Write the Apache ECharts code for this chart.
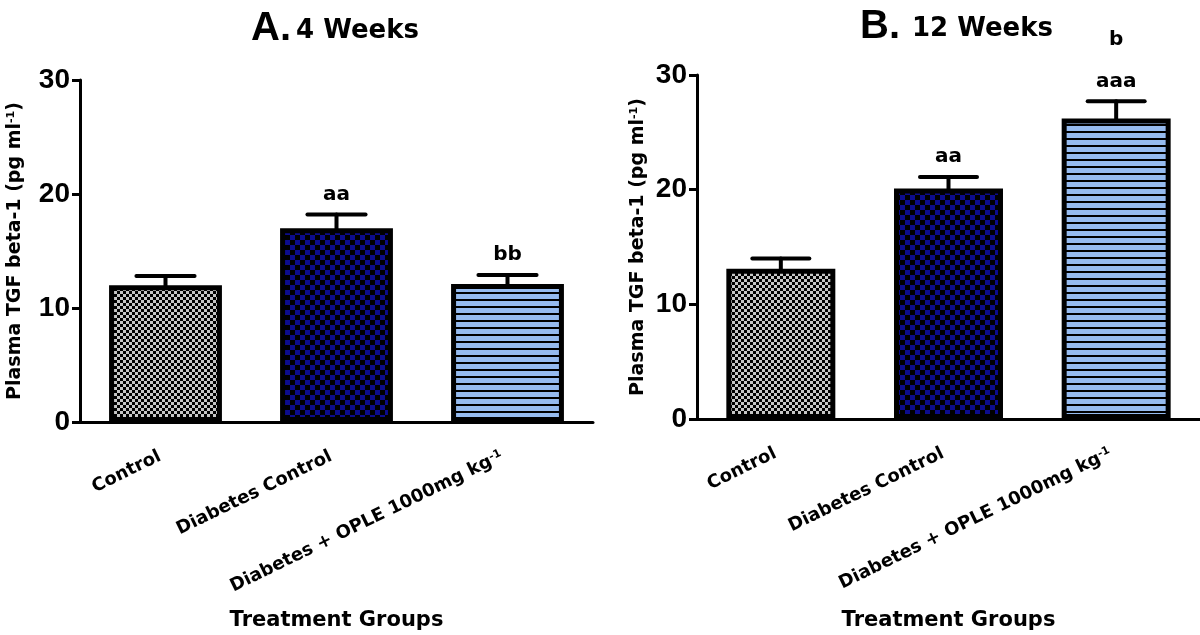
<!DOCTYPE html>
<html>
<head>
<meta charset="utf-8">
<script src="https://cdn.jsdelivr.net/npm/echarts@6/dist/echarts.min.js"></script>
<style>
html, body { margin: 0; padding: 0; background: #fff; }
#main { width: 1200px; height: 635px; }
</style>
</head>
<body>
<div id="main"></div>
<script>
// groups on the x axis (the last one carries a superscript)
var groups = ['Control', 'Diabetes Control', 'Diabetes + OPLE 1000mg kg'];
var groupSup = ['', '', '-1'];

// A. 4 weeks
var weeks4Mean = [12.0, 17.0, 12.1];
var weeks4Sem = [0.8, 1.2, 0.8];
var weeks4Marks = ['', 'aa', 'bb'];

// B. 12 weeks
var weeks12Mean = [13.1, 20.1, 26.2];
var weeks12Sem = [0.9, 1.0, 1.5];
var weeks12Marks = ['', 'aa', 'b\naaa'];

var yMin = 0, yMax = 30, yStep = 10;

var FONT = 'DejaVu Sans';

// fill patterns
function checker(size, c1, c2) {
	var cv = document.createElement('canvas');
	cv.width = cv.height = size * 2;
	var ctx = cv.getContext('2d');
	ctx.fillStyle = c1;
	ctx.fillRect(0, 0, size * 2, size * 2);
	ctx.fillStyle = c2;
	ctx.fillRect(0, 0, size, size);
	ctx.fillRect(size, size, size, size);
	return cv;
}
function stripes(gap, line, c1, c2) {
	var cv = document.createElement('canvas');
	cv.width = 8;
	cv.height = gap + line;
	var ctx = cv.getContext('2d');
	ctx.fillStyle = c1;
	ctx.fillRect(0, 0, 8, gap + line);
	ctx.fillStyle = c2;
	ctx.fillRect(0, gap, 8, line);
	return cv;
}
var fills = [
	checker(3, '#c6c6c6', '#000'),
	checker(5, '#0c0c8c', '#000'),
	stripes(5, 2, '#96bbef', '#000')
];

function barData(means) {
	return means.map(function(v, i) {
		return {
			value: v,
			itemStyle: {
				color: { image: fills[i], repeat: 'repeat' }
			}
		};
	});
}
function errData(means, sems) {
	return means.map(function(v, i) {
		return [i, v, sems[i]];
	});
}

function errorRenderer(marks) {
	return function(params, api) {
		var x = api.value(0), m = api.value(1), e = api.value(2);
		var base = api.coord([x, m]);
		var top = api.coord([x, m + e]);
		var half = api.size([1, 0])[0] * 0.17;
		var st = { stroke: '#000', lineWidth: 4, lineCap: 'round' };
		var kids = [
			{ type: 'line', shape: { x1: base[0], y1: base[1], x2: top[0], y2: top[1] }, style: st },
			{ type: 'line', shape: { x1: top[0] - half, y1: top[1], x2: top[0] + half, y2: top[1] }, style: st }
		];
		var mark = marks[params.dataIndex];
		if (mark) {
			kids.push({
				type: 'text',
				x: top[0],
				y: top[1] + 1,
				style: {
					text: mark,
					fill: '#000',
					fontFamily: FONT,
					fontWeight: 'bold',
					fontSize: 20,
					lineHeight: 42,
					align: 'center',
					verticalAlign: 'bottom',
					textAlign: 'center',
					textVerticalAlign: 'bottom'
				}
			});
		}
		return { type: 'group', children: kids };
	};
}

function xAxisFor(gridIndex, gap) {
	return {
		type: 'category',
		gridIndex: gridIndex,
		data: groups,
		axisLine: { lineStyle: { color: '#000', width: 3 } },
		axisTick: { alignWithLabel: true, length: 8, lineStyle: { color: '#000', width: 3 } },
		axisLabel: {
			rotate: 26,
			margin: 31,
			padding: [0, 6, 0, 0],
			interval: 0,
			formatter: function(v, i) {
				return '{n|' + v + '}' + (groupSup[i] ? '{s|' + groupSup[i] + '}' : '');
			},
			rich: {
				n: { fontFamily: FONT, fontWeight: 'bold', fontSize: 18, color: '#000' },
				s: { fontFamily: FONT, fontWeight: 'bold', fontSize: 11, color: '#000', verticalAlign: 'top' }
			}
		},
		name: 'Treatment Groups',
		nameLocation: 'middle',
		nameGap: gap,
		nameTextStyle: { fontFamily: FONT, fontWeight: 'bold', fontSize: 21, color: '#000' }
	};
}
function yAxisFor(gridIndex, gap) {
	return {
		type: 'value',
		gridIndex: gridIndex,
		min: yMin,
		max: yMax,
		interval: yStep,
		splitLine: { show: false },
		axisLine: { show: true, lineStyle: { color: '#000', width: 3 } },
		axisTick: { show: true, length: 8, lineStyle: { color: '#000', width: 3 } },
		axisLabel: {
			margin: 10,
			fontFamily: 'Liberation Sans',
			fontWeight: 'bold',
			fontSize: 28,
			color: '#000'
		},
		name: '{n|Plasma TGF beta-1 (pg ml}{s|-1}{n|)}',
		nameLocation: 'middle',
		nameGap: gap,
		nameTextStyle: {
			rich: {
				n: { fontFamily: FONT, fontWeight: 'bold', fontSize: 19, color: '#000' },
				s: { fontFamily: FONT, fontWeight: 'bold', fontSize: 11, color: '#000', verticalAlign: 'top' }
			}
		}
	};
}

var titleBig = { fontFamily: "'Liberation Sans Narrow', 'Liberation Sans'", fontWeight: 'bold', fontSize: 40, color: '#000' };
var titleSmall = { fontFamily: FONT, fontWeight: 'bold', fontSize: 26, color: '#000' };

var chart = echarts.init(document.getElementById('main'));
var option = {
	backgroundColor: '#fff',
	animation: false,
	title: [
		{ text: 'A.', left: 251, top: 9, padding: 0, textStyle: titleBig },
		{ text: '4 Weeks', left: 296, top: 18, padding: 0, textStyle: titleSmall },
		{ text: 'B.', left: 860, top: 7, padding: 0, textStyle: titleBig },
		{ text: '12 Weeks', left: 912, top: 16, padding: 0, textStyle: titleSmall }
	],
	grid: [
		{ left: 80, top: 80, width: 513, height: 342, outerBoundsMode: 'none' },
		{ left: 697, top: 75, width: 503, height: 344, outerBoundsMode: 'none' }
	],
	xAxis: [xAxisFor(0, 188), xAxisFor(1, 191)],
	yAxis: [yAxisFor(0, 55), yAxisFor(1, 49)],
	series: [
		{
			type: 'bar',
			xAxisIndex: 0,
			yAxisIndex: 0,
			barWidth: '66%',
			itemStyle: { borderColor: '#000', borderWidth: 5 },
			data: barData(weeks4Mean)
		},
		{
			type: 'custom',
			xAxisIndex: 0,
			yAxisIndex: 0,
			z: 5,
			renderItem: errorRenderer(weeks4Marks),
			data: errData(weeks4Mean, weeks4Sem)
		},
		{
			type: 'bar',
			xAxisIndex: 1,
			yAxisIndex: 1,
			barWidth: '65%',
			itemStyle: { borderColor: '#000', borderWidth: 5 },
			data: barData(weeks12Mean)
		},
		{
			type: 'custom',
			xAxisIndex: 1,
			yAxisIndex: 1,
			z: 5,
			renderItem: errorRenderer(weeks12Marks),
			data: errData(weeks12Mean, weeks12Sem)
		}
	]
};
chart.setOption(option);
</script>
</body>
</html>
